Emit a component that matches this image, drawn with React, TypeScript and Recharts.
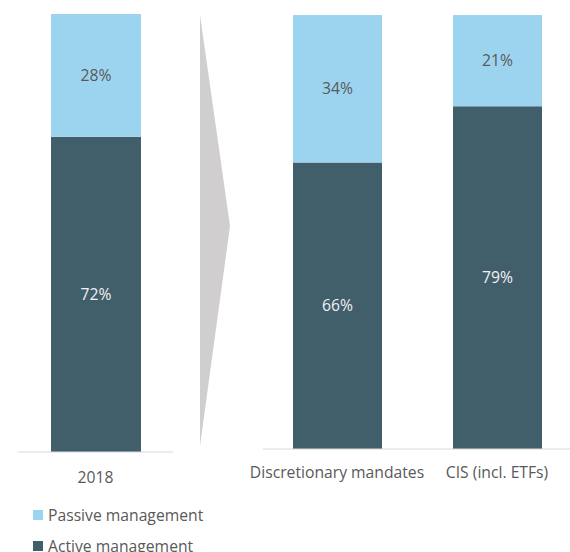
import React from 'react';
import { BarChart, Bar, XAxis, YAxis, LabelList } from 'recharts';

const categoriesLeft = ['2018'];
const passiveLeft = [28];
const activeLeft = [72];

const categoriesRight = ['Discretionary mandates', 'CIS (incl. ETFs)'];
const passiveRight = [34, 21];
const activeRight = [66, 79];

const seriesNames = ['Passive management', 'Active management'];

const PASSIVE = '#9CD4F0';
const ACTIVE = '#415E6B';
const AXIS = '#D9D9D9';
const TEXT = '#595959';
const FONT = '"Open Sans", sans-serif';
const FS = 15.7;

const build = (cats: string[], p: number[], a: number[]) =>
  cats.map((c, i) => ({ name: c, passive: p[i], active: a[i] }));

const dataLeft = build(categoriesLeft, passiveLeft, activeLeft);
const dataRight = build(categoriesRight, passiveRight, activeRight);

const pct = (v: any) => `${v}%`;

function Stack({ data, width, height, margin, barSize, catHeight, tickMargin, padding, gridTicks }: any) {
  return (
    <BarChart width={width} height={height} data={data} margin={margin} barCategoryGap={0}>
      <XAxis
        dataKey="name"
        height={catHeight}
        axisLine={false}
        tickLine={false}
        interval={0}
        tickMargin={tickMargin}
        padding={padding}
        tick={{ fill: TEXT, fontSize: FS, fontFamily: FONT }}
      />
      <XAxis
        xAxisId="grid"
        type="number"
        domain={[0, gridTicks.length - 1]}
        ticks={gridTicks}
        allowDataOverflow
        height={1}
        mirror
        tick={false}
        tickSize={-6}
        stroke={AXIS}
        tickLine={{ stroke: AXIS }}
        axisLine={{ stroke: AXIS }}
      />
      <YAxis hide domain={[0, 100]} />
      <Bar dataKey="active" name={seriesNames[1]} stackId="s" fill={ACTIVE} barSize={barSize} isAnimationActive={false}>
        <LabelList dataKey="active" position="center" formatter={pct} fill="#F2F2F2" fontSize={FS} fontFamily={FONT} />
      </Bar>
      <Bar dataKey="passive" name={seriesNames[0]} stackId="s" fill={PASSIVE} barSize={barSize} isAnimationActive={false}>
        <LabelList dataKey="passive" position="center" formatter={pct} fill={TEXT} fontSize={FS} fontFamily={FONT} />
      </Bar>
    </BarChart>
  );
}

export default function App() {
  return (
    <div style={{ position: 'absolute', left: 0, top: 0, width: 570, height: 552, background: '#fff', fontFamily: FONT, overflow: 'hidden' }}>
      <div style={{ position: 'absolute', left: 0, top: 0 }}>
        <Stack
          data={dataLeft}
          width={200}
          height={490}
          margin={{ top: 14, right: 27, left: 18, bottom: 0 }}
          barSize={90}
          catHeight={38}
          tickMargin={14}
          padding={{ left: 0, right: 0 }}
          gridTicks={[0, 1]}
        />
      </div>
      <svg style={{ position: 'absolute', left: 0, top: 0 }} width={570} height={490}>
        <polygon points="200,15 230,226 200,446" fill="#D0CECE" />
      </svg>
      <div style={{ position: 'absolute', left: 240, top: 0 }}>
        <Stack
          data={dataRight}
          width={330}
          height={490}
          margin={{ top: 15, right: 0, left: 23, bottom: 0 }}
          barSize={89}
          catHeight={41}
          tickMargin={12}
          padding={{ left: -6, right: -7 }}
          gridTicks={[0, 1, 2]}
        />
      </div>
      {seriesNames.map((n, i) => (
        <div
          key={n}
          style={{ position: 'absolute', left: 33, top: 505 + i * 31, height: 20, display: 'flex', alignItems: 'center', fontSize: FS, color: TEXT }}
        >
          <span style={{ display: 'inline-block', width: 10, height: 10, background: i === 0 ? PASSIVE : ACTIVE, marginRight: 5 }} />
          <span>{n}</span>
        </div>
      ))}
    </div>
  );
}
